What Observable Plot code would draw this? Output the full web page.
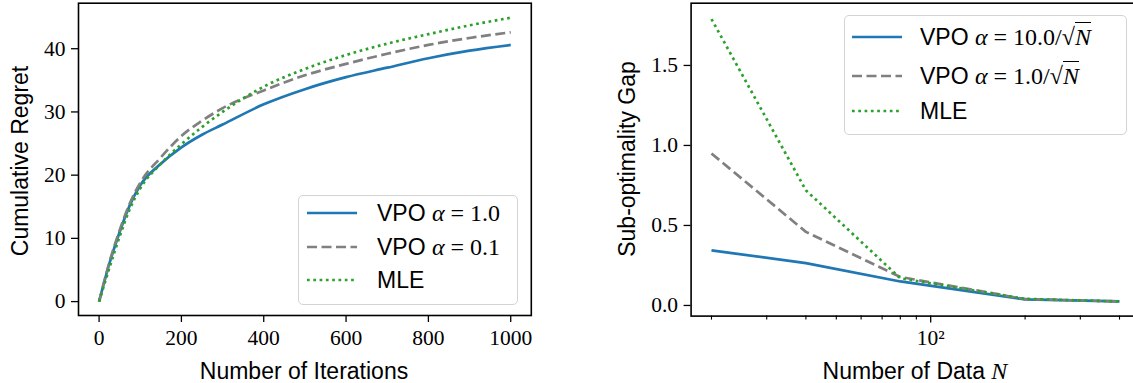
<!DOCTYPE html>
<html>
<head>
<meta charset="utf-8">
<script src="https://cdn.jsdelivr.net/npm/d3@7"></script>
<script src="https://cdn.jsdelivr.net/npm/@observablehq/plot@0.6"></script>
<style>
  html, body { margin: 0; padding: 0; background: #fff; overflow: hidden; }
  #fig { position: relative; width: 1133px; height: 383px; overflow: hidden; }
  #fig > .panel { position: absolute; top: 0; }
  .lab { position: absolute; font-family: "Liberation Sans", Arial, sans-serif; font-size: 23px; color: #000; white-space: nowrap; line-height: 1; }
  .ylab { transform: translate(-50%, -50%) rotate(-90deg); }
  .xlab { transform: translateX(-50%); }
  .legend { position: absolute; border: 1.3px solid #d4d4d4; border-radius: 5px; background: rgba(255,255,255,0.8); box-sizing: border-box; }
  .row { position: absolute; white-space: nowrap; font-family: "Liberation Sans", Arial, sans-serif; font-size: 23px; line-height: 1; transform: translateY(-50%); }
  .m { font-family: "Liberation Serif", "DejaVu Serif", serif; font-size: 24px; }
  .it { font-style: italic; }
  .sq { border-top: 1.4px solid #000; padding-top: 1px; }
  svg.samp { position: absolute; overflow: visible; }
</style>
</head>
<body>
<div id="fig"></div>
<script>
// ---------- data ----------
const iterations   = [0, 25, 50, 75, 100, 150, 200, 250, 300, 400, 500, 600, 700, 800, 900, 1000];
const regretVPO1   = [0, 6.0, 11.0, 15.3, 18.4, 21.8, 24.4, 26.4, 28.0, 31.2, 33.6, 35.5, 37.0, 38.5, 39.7, 40.6];
const regretVPO01  = [0, 6.2, 11.3, 15.6, 18.8, 22.8, 26.2, 28.6, 30.6, 33.4, 35.8, 37.6, 39.2, 40.6, 41.7, 42.6];
const regretMLE    = [0, 5.3, 10.3, 14.7, 17.9, 21.8, 24.9, 27.6, 30.0, 34.0, 36.8, 39.0, 40.8, 42.3, 43.7, 44.9];

const dataN        = [20, 40, 80, 200, 400];
const gapVPO10     = [0.344, 0.265, 0.15, 0.038, 0.025];
const gapVPO1      = [0.95, 0.46, 0.178, 0.04, 0.025];
const gapMLE       = [1.79, 0.72, 0.17, 0.041, 0.025];

const leftXTicks   = [0, 200, 400, 600, 800, 1000];
const leftYTicks   = [0, 10, 20, 30, 40];
const rightYTicks  = [0, 0.5, 1.0, 1.5];
const rightXMajor  = [100];
const rightXMinor  = [20, 30, 40, 50, 60, 70, 80, 90, 200, 300, 400];

const seriesNamesL = ["VPO α = 1.0", "VPO α = 0.1", "MLE"];
const seriesNamesR = ["VPO α = 10.0/√N", "VPO α = 1.0/√N", "MLE"];
const colors       = ["#1f77b4", "#808080", "#2ca02c"];
const dashes       = [null, "10,4.5", "2.7,3.6"];

// ---------- tables ----------
const leftRows = [];
[regretVPO1, regretVPO01, regretMLE].forEach((arr, k) =>
  arr.forEach((v, i) => leftRows.push({x: iterations[i], y: v, s: k})));
const rightRows = [];
[gapVPO10, gapVPO1, gapMLE].forEach((arr, k) =>
  arr.forEach((v, i) => rightRows.push({x: dataN[i], y: v, s: k})));

const fig = document.getElementById("fig");
const tickFont = {fontFamily: "'Liberation Serif', 'DejaVu Serif', serif", fontSize: "21.5px", color: "#000", background: "transparent", overflow: "visible"};

function lines(rows, curve) {
  return [0, 1, 2].map(k => Plot.line(rows.filter(d => d.s === k), {
    x: "x", y: "y", stroke: colors[k], strokeWidth: 2.7,
    strokeLinecap: "butt", strokeLinejoin: "round",
    strokeDasharray: dashes[k] || undefined, curve
  }));
}

// ---------- left panel ----------
const left = Plot.plot({
  width: 560, height: 383,
  marginLeft: 78, marginRight: 29.2, marginTop: 2.7, marginBottom: 68,
  style: tickFont,
  x: {domain: [-50, 1050]},
  y: {domain: [-2.2, 47.2]},
  marks: [
    ...lines(leftRows, "monotone-x"),
    Plot.axisX({ticks: leftXTicks, tickSize: 7, tickPadding: 7, label: null, strokeWidth: 1.3, tickFormat: d => String(d)}),
    Plot.axisY({ticks: leftYTicks, tickSize: 7, tickPadding: 6, label: null, strokeWidth: 1.3, tickFormat: d => String(d)}),
    Plot.frame({stroke: "#000", strokeWidth: 1.6})
  ]
});
left.classList.add("panel");
left.style.left = "0px";
fig.appendChild(left);

// ---------- right panel ----------
const right = Plot.plot({
  width: 580, height: 383,
  marginLeft: 110.6, marginRight: 20.6, marginTop: 2.7, marginBottom: 67.4,
  style: tickFont,
  x: {type: "log", domain: [17.22, 464.6]},
  y: {domain: [-0.0665, 1.889]},
  marks: [
    ...lines(rightRows, "linear"),
    Plot.axisX({ticks: rightXMinor, tickSize: 4, label: null, strokeWidth: 1.1, tickFormat: () => ""}),
    Plot.axisX({ticks: rightXMajor, tickSize: 7, tickPadding: 7, label: null, strokeWidth: 1.3, tickFormat: () => "10²"}),
    Plot.axisY({ticks: rightYTicks, tickSize: 7, tickPadding: 6, label: null, strokeWidth: 1.3, tickFormat: d3.format(".1f")}),
    Plot.frame({stroke: "#000", strokeWidth: 1.6})
  ]
});
right.classList.add("panel");
right.style.left = "580px";
fig.appendChild(right);

// ---------- axis labels ----------
function addLabel(html, x, y, cls) {
  const d = document.createElement("div");
  d.className = "lab " + cls;
  d.style.left = x + "px"; d.style.top = y + "px";
  d.innerHTML = html;
  fig.appendChild(d);
}
addLabel("Cumulative Regret", 20, 161, "ylab");
addLabel("Number of Iterations", 304, 360, "xlab");
addLabel("Sub-optimality Gap", 627, 159, "ylab");
addLabel('Number of Data <span class="m it">N</span>', 915, 359, "xlab");

// ---------- legends ----------
function sampleSvg(k, x, y, len) {
  const ns = "http://www.w3.org/2000/svg";
  const s = document.createElementNS(ns, "svg");
  s.setAttribute("class", "samp");
  s.setAttribute("width", len); s.setAttribute("height", 4);
  s.style.left = x + "px"; s.style.top = (y - 2) + "px";
  const l = document.createElementNS(ns, "line");
  l.setAttribute("x1", 0); l.setAttribute("x2", len);
  l.setAttribute("y1", 2); l.setAttribute("y2", 2);
  l.setAttribute("stroke", colors[k]); l.setAttribute("stroke-width", 2.7);
  if (dashes[k]) l.setAttribute("stroke-dasharray", dashes[k]);
  s.appendChild(l);
  fig.appendChild(s);
}
function mathLabel(name) {
  if (!name.startsWith("VPO")) return name;
  const rest = name.slice(4);
  const m = rest.replace("α", '<span class="it">α</span>')
                .replace("√N", '√<span class="sq it">N</span>');
  return 'VPO <span class="m">' + m + '</span>';
}
function legend(box, rows, names) {
  const b = document.createElement("div");
  b.className = "legend";
  b.style.left = box[0] + "px"; b.style.top = box[1] + "px";
  b.style.width = box[2] + "px"; b.style.height = box[3] + "px";
  fig.appendChild(b);
  rows.ys.forEach((y, k) => {
    sampleSvg(k, rows.x0, y, rows.len);
    const r = document.createElement("div");
    r.className = "row";
    r.style.left = rows.tx + "px"; r.style.top = y + "px";
    r.innerHTML = mathLabel(names[k]);
    fig.appendChild(r);
  });
}
legend([298, 195, 220, 110], {ys: [213, 246.5, 280], x0: 307, len: 50, tx: 377}, seriesNamesL);
legend([844, 15, 283, 120], {ys: [37, 76, 111], x0: 852, len: 50, tx: 920}, seriesNamesR);
</script>
</body>
</html>
